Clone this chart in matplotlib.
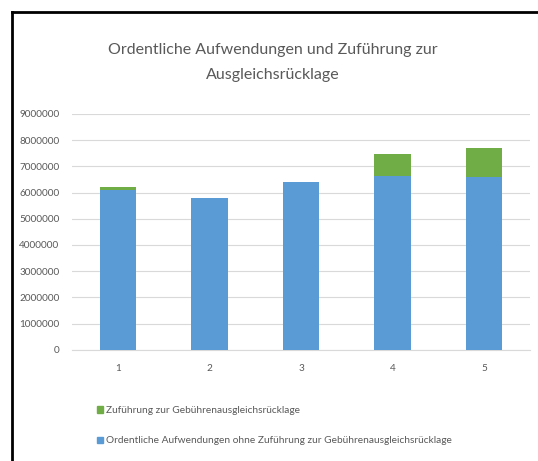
import matplotlib.pyplot as plt
from matplotlib.lines import Line2D
from matplotlib.patches import Patch

plt.rcParams['font.family'] = ['Lato', 'DejaVu Sans']

categories = ['1', '2', '3', '4', '5']
ordentlich = [6080000, 5800000, 6410000, 6620000, 6600000]
zufuehrung = [140000, 0, 0, 860000, 1110000]
yticks = [0, 1000000, 2000000, 3000000, 4000000, 5000000, 6000000, 7000000, 8000000, 9000000]

title = 'Ordentliche Aufwendungen und Zuführung zur\nAusgleichsrücklage'
label_blue = 'Ordentliche Aufwendungen ohne Zuführung zur Gebührenausgleichsrücklage'
label_green = 'Zuführung zur Gebührenausgleichsrücklage'

blue = '#5B9BD5'
green = '#70AD47'
grey = '#595959'

fig = plt.figure(figsize=(5.38, 4.61), dpi=100)
ax = fig.add_axes([0.134, 0.241, 0.851, 0.512])

x = range(len(categories))
ax.bar(x, ordentlich, width=0.4, color=blue, zorder=3)
ax.bar(x, zufuehrung, width=0.4, bottom=ordentlich, color=green, zorder=3)

ax.set_xlim(-0.5, len(categories) - 0.5)
ax.set_ylim(0, 9000000)
ax.set_yticks(yticks)
ax.set_yticklabels([str(v) for v in yticks])
ax.set_xticks(list(x))
ax.set_xticklabels(categories)
ax.grid(axis='y', color='#d9d9d9', linewidth=0.8, zorder=0)
for s in ['top', 'right', 'left']:
    ax.spines[s].set_visible(False)
ax.spines['bottom'].set_color('#d9d9d9')
ax.tick_params(axis='both', length=0, colors=grey, labelsize=7.2)
ax.tick_params(axis='x', pad=10)
ax.tick_params(axis='y', pad=9)

fig.text(0.507, 0.864, title, ha='center', va='center', fontsize=11.5,
         color=grey, linespacing=2.0)

handles = [Patch(color=green), Patch(color=blue)]
fig.legend(handles, [label_green, label_blue], loc='upper left',
           bbox_to_anchor=(0.172, 0.128), frameon=False, fontsize=7.3,
           labelcolor=grey, handlelength=0.6, handleheight=0.6,
           handletextpad=0.3, labelspacing=2.1, borderaxespad=0)

# frame lines on left and top like the cropped screenshot
fig.add_artist(Line2D([0.022, 0.022], [0, 0.974], color='black', linewidth=2,
                      transform=fig.transFigure))
fig.add_artist(Line2D([0.022, 1.0], [0.974, 0.974], color='black', linewidth=2,
                      transform=fig.transFigure))

fig.savefig('out.png', dpi=100)
